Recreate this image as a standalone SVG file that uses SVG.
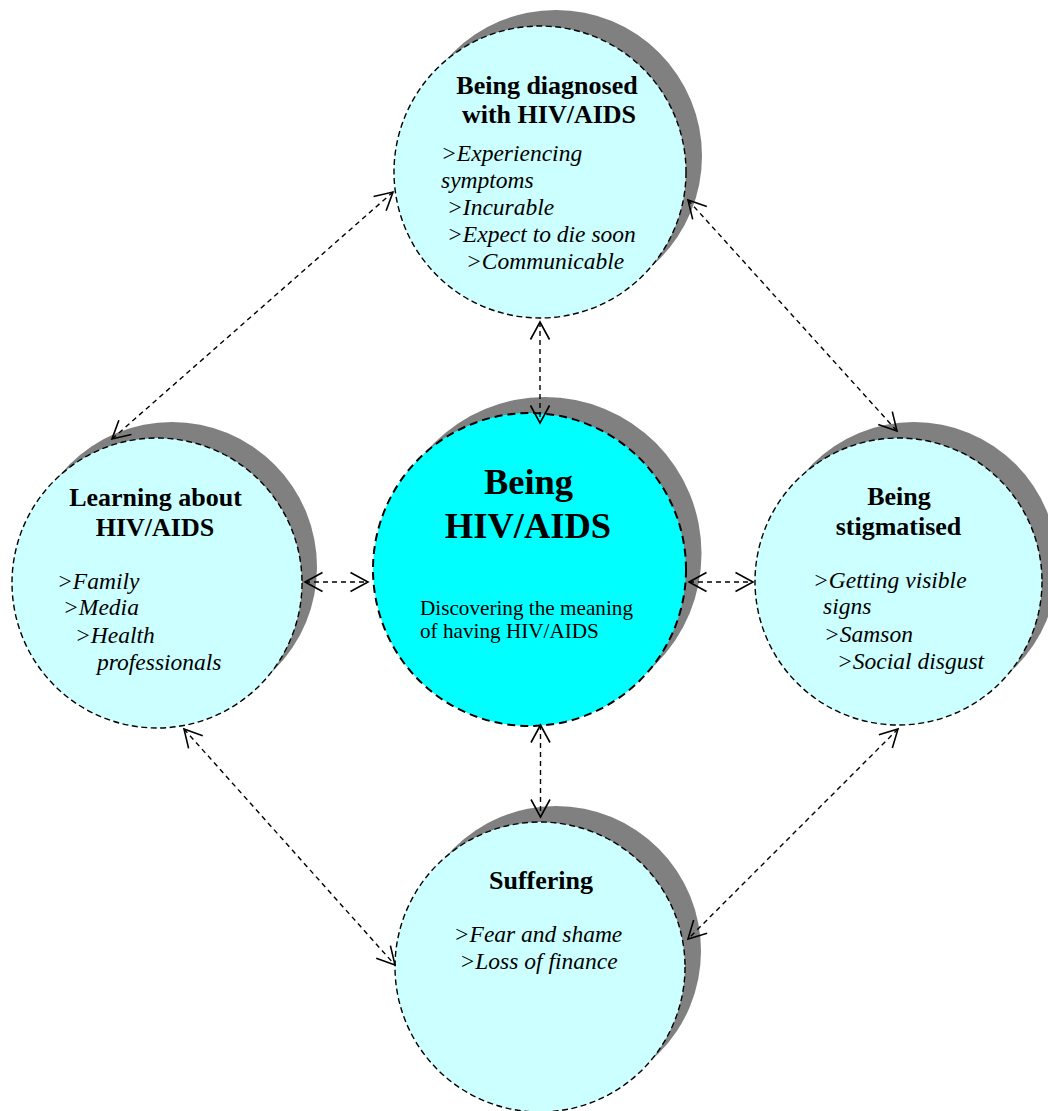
<svg xmlns="http://www.w3.org/2000/svg" width="1048" height="1111" viewBox="0 0 1048 1111">
<style>
.shadow{fill:#808080;stroke:none}
.node{fill:#CCFFFF;stroke:#000;stroke-width:1.4;stroke-dasharray:6 3.5}
.core{fill:#00FFFF;stroke:#000;stroke-width:2;stroke-dasharray:8 5}
.title{font-family:"Liberation Serif","Times New Roman",serif;font-weight:bold;font-size:26px;fill:#000;text-anchor:middle}
.big{font-family:"Liberation Serif","Times New Roman",serif;font-weight:bold;font-size:36.5px;fill:#000;text-anchor:middle}
.item{font-family:"Liberation Serif","Times New Roman",serif;font-style:italic;font-size:23.5px;fill:#000}
.plain{font-family:"Liberation Serif","Times New Roman",serif;font-size:21.2px;fill:#000}
.link{fill:none;stroke:#000;stroke-width:1.4;stroke-dasharray:5 4;marker-start:url(#arr);marker-end:url(#arr)}
</style>
<defs>
<marker id="arr" markerUnits="userSpaceOnUse" viewBox="-20 -11 22 22" refX="0" refY="0" markerWidth="22" markerHeight="22" orient="auto-start-reverse">
<path d="M-17.5,-9.5 L0,0 L-17.5,9.5" fill="none" stroke="#000" stroke-width="1.6"/>
</marker>
</defs>
<rect width="1048" height="1111" fill="#fff"/>
<g id="node-diagnosed">
<circle class="shadow" cx="556" cy="156" r="146"/>
<circle class="node" cx="540" cy="172" r="146"/>
<text class="title" x="547" y="94">Being diagnosed</text>
<text class="title" x="549" y="123">with HIV/AIDS</text>
<text class="item" x="441" y="161">&gt;Experiencing</text>
<text class="item" x="441" y="188">symptoms</text>
<text class="item" x="447" y="215">&gt;Incurable</text>
<text class="item" x="447" y="242">&gt;Expect to die soon</text>
<text class="item" x="466" y="269">&gt;Communicable</text>
</g>
<g id="node-being">
<circle class="shadow" cx="545" cy="553.5" r="156.5"/>
<circle class="core" cx="529.5" cy="569.5" r="156.5"/>
<text class="big" x="528.5" y="494">Being</text>
<text class="big" x="528" y="538">HIV/AIDS</text>
<text class="plain" x="420" y="615">Discovering the meaning</text>
<text class="plain" x="420" y="638">of having HIV/AIDS</text>
</g>
<g id="node-learning">
<circle class="shadow" cx="172" cy="567" r="145"/>
<circle class="node" cx="157" cy="583" r="145"/>
<text class="title" x="155.5" y="506">Learning about</text>
<text class="title" x="155" y="536">HIV/AIDS</text>
<text class="item" x="57" y="589">&gt;Family</text>
<text class="item" x="63" y="615">&gt;Media</text>
<text class="item" x="75" y="643">&gt;Health</text>
<text class="item" x="97" y="670">professionals</text>
</g>
<g id="node-stigmatised">
<circle class="shadow" cx="914" cy="565.5" r="143.5"/>
<circle class="node" cx="898.5" cy="581.5" r="143.5"/>
<text class="title" x="899" y="505">Being</text>
<text class="title" x="898.5" y="535">stigmatised</text>
<text class="item" x="813" y="588">&gt;Getting visible</text>
<text class="item" x="823" y="614">signs</text>
<text class="item" x="824" y="642">&gt;Samson</text>
<text class="item" x="837" y="669">&gt;Social disgust</text>
</g>
<g id="node-suffering">
<circle class="shadow" cx="556" cy="951" r="145"/>
<circle class="node" cx="540" cy="967" r="145"/>
<text class="title" x="541" y="889">Suffering</text>
<text class="item" x="538" y="942" text-anchor="middle">&gt;Fear and shame</text>
<text class="item" x="538.5" y="969" text-anchor="middle">&gt;Loss of finance</text>
</g>
<g id="connectors">
<line class="link" x1="540" y1="322" x2="540" y2="423"/>
<line class="link" x1="540.5" y1="725" x2="540.5" y2="817"/>
<line class="link" x1="305" y1="582" x2="368" y2="582"/>
<line class="link" x1="689" y1="582" x2="753" y2="582"/>
<line class="link" x1="393" y1="192" x2="112" y2="439"/>
<line class="link" x1="688" y1="200" x2="897" y2="431"/>
<line class="link" x1="184" y1="729" x2="395" y2="965"/>
<line class="link" x1="898" y1="729" x2="688" y2="939"/>
</g>
</svg>
